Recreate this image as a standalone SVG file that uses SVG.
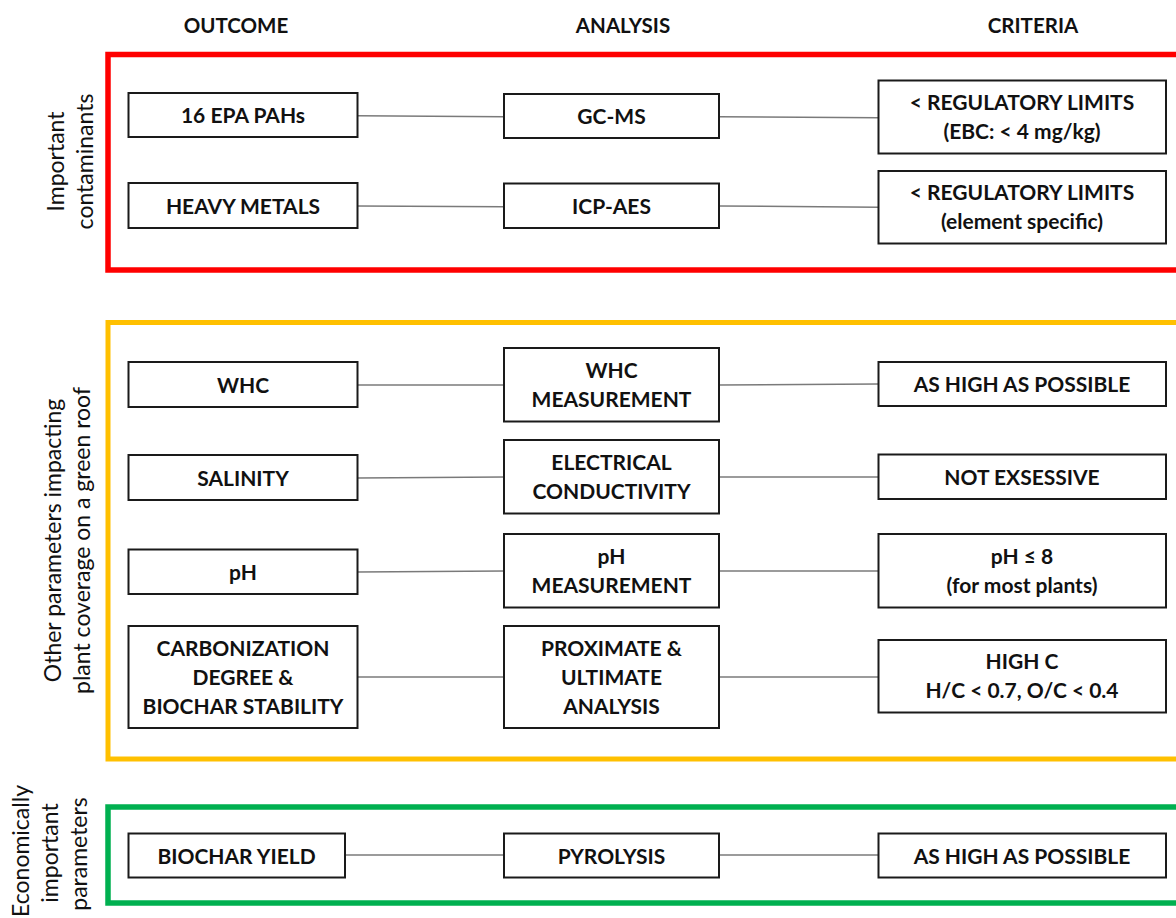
<svg xmlns="http://www.w3.org/2000/svg" width="1176" height="918" viewBox="0 0 1176 918">
<style>
  .frame { fill: none; }
  .box { fill: #ffffff; stroke: #1a1a1a; stroke-width: 2; }
  .t { font-family: Lato, "Open Sans", "Liberation Sans", sans-serif; font-size: 21px; font-weight: bold; fill: #111111; text-anchor: middle; }
  .h { font-family: Lato, "Open Sans", "Liberation Sans", sans-serif; font-size: 20.5px; font-weight: bold; fill: #111111; text-anchor: middle; }
  .side { font-family: Lato, "Open Sans", "Liberation Sans", sans-serif; font-size: 23px; font-weight: normal; fill: #111111; text-anchor: middle; }
  .conn line { stroke: #7a7a7a; stroke-width: 1.5; }
</style>
<rect width="1176" height="918" fill="#ffffff"/>

<g id="headers">
  <text class="h" x="236" y="33">OUTCOME</text>
  <text class="h" x="623" y="33">ANALYSIS</text>
  <text class="h" x="1033" y="33">CRITERIA</text>
</g>

<g id="frames">
  <rect id="frame-red" class="frame" x="108" y="54.5" width="1090" height="215.5" stroke="#FF0000" stroke-width="5.5"/>
  <rect id="frame-yellow" class="frame" x="108" y="322.5" width="1090" height="436.5" stroke="#FFC000" stroke-width="5"/>
  <rect id="frame-green" class="frame" x="108" y="807" width="1090" height="96" stroke="#00B050" stroke-width="5.5"/>
</g>

<g id="side-labels">
  <text id="label-contaminants" class="side" transform="rotate(-90)"><tspan x="-161.5" y="64">Important</tspan><tspan x="-161.5" y="93">contaminants</tspan></text>
  <text id="label-other" class="side" transform="rotate(-90)"><tspan x="-540.5" y="61">Other parameters impacting</tspan><tspan x="-540.5" y="90">plant coverage on a green roof</tspan></text>
  <text id="label-economic" class="side" transform="rotate(-90)"><tspan x="-851" y="29">Economically</tspan><tspan x="-853" y="58">important</tspan><tspan x="-854" y="87">parameters</tspan></text>
</g>

<g id="connectors" class="conn">
  <line x1="357.5" y1="115.7" x2="504" y2="116.7"/>
  <line x1="719" y1="116.7" x2="878.5" y2="117.7"/>
  <line x1="357.5" y1="206" x2="504" y2="206.7"/>
  <line x1="719" y1="206" x2="878.5" y2="207.3"/>
  <line x1="357.5" y1="385" x2="504" y2="385"/>
  <line x1="719" y1="385" x2="878.5" y2="384"/>
  <line x1="357.5" y1="478" x2="504" y2="477"/>
  <line x1="719" y1="477" x2="878.5" y2="477"/>
  <line x1="357.5" y1="572" x2="504" y2="571"/>
  <line x1="719" y1="571" x2="878.5" y2="571"/>
  <line x1="357.5" y1="677" x2="504" y2="677"/>
  <line x1="719" y1="677" x2="878.5" y2="677"/>
  <line x1="345" y1="855" x2="504" y2="855"/>
  <line x1="719" y1="855" x2="878.5" y2="855"/>
</g>

<!-- Row: 16 EPA PAHs -->
<g id="n-pahs"><rect class="box" x="128.5" y="93" width="229" height="44"/><text class="t" x="243" y="123">16 EPA PAHs</text></g>
<g id="n-gcms"><rect class="box" x="504" y="94" width="215" height="44"/><text class="t" x="611.5" y="124">GC-MS</text></g>
<g id="n-crit-pahs"><rect class="box" x="878.5" y="80.5" width="287.5" height="73"/><text class="t" x="1022" y="110">&lt; REGULATORY LIMITS</text><text class="t" x="1022" y="139">(EBC: &lt; 4 mg/kg)</text></g>

<!-- Row: HEAVY METALS -->
<g id="n-metals"><rect class="box" x="128.5" y="183" width="229" height="45"/><text class="t" x="243" y="213.5">HEAVY METALS</text></g>
<g id="n-icp"><rect class="box" x="504" y="183.5" width="215" height="44.5"/><text class="t" x="611.5" y="213.5">ICP-AES</text></g>
<g id="n-crit-metals"><rect class="box" x="878.5" y="171" width="287.5" height="72.5"/><text class="t" x="1022" y="199.5">&lt; REGULATORY LIMITS</text><text class="t" x="1022" y="228.5">(element specific)</text></g>

<!-- Row: WHC -->
<g id="n-whc"><rect class="box" x="128.5" y="362" width="229" height="45"/><text class="t" x="243" y="392.5">WHC</text></g>
<g id="n-whc-meas"><rect class="box" x="504" y="348" width="215" height="73.5"/><text class="t" x="611.5" y="378">WHC</text><text class="t" x="611.5" y="407">MEASUREMENT</text></g>
<g id="n-whc-crit"><rect class="box" x="878.5" y="362" width="287.5" height="44"/><text class="t" x="1022" y="392">AS HIGH AS POSSIBLE</text></g>

<!-- Row: SALINITY -->
<g id="n-salinity"><rect class="box" x="128.5" y="455" width="229" height="45"/><text class="t" x="243" y="485.5">SALINITY</text></g>
<g id="n-ec"><rect class="box" x="504" y="440" width="215" height="73.5"/><text class="t" x="611.5" y="470">ELECTRICAL</text><text class="t" x="611.5" y="499">CONDUCTIVITY</text></g>
<g id="n-salinity-crit"><rect class="box" x="878.5" y="454.5" width="287.5" height="44.5"/><text class="t" x="1022" y="484.5">NOT EXSESSIVE</text></g>

<!-- Row: pH -->
<g id="n-ph"><rect class="box" x="128.5" y="549.5" width="229" height="44.5"/><text class="t" x="243" y="579.5">pH</text></g>
<g id="n-ph-meas"><rect class="box" x="504" y="534" width="215" height="73.5"/><text class="t" x="611.5" y="564">pH</text><text class="t" x="611.5" y="593">MEASUREMENT</text></g>
<g id="n-ph-crit"><rect class="box" x="878.5" y="534" width="287.5" height="73.5"/><text class="t" x="1022" y="564">pH ≤ 8</text><text class="t" x="1022" y="593">(for most plants)</text></g>

<!-- Row: CARBONIZATION -->
<g id="n-carb"><rect class="box" x="128.5" y="626" width="229" height="102"/><text class="t" x="243" y="655.5">CARBONIZATION</text><text class="t" x="243" y="684.5">DEGREE &amp;</text><text class="t" x="243" y="713.5">BIOCHAR STABILITY</text></g>
<g id="n-prox"><rect class="box" x="504" y="626" width="215" height="102"/><text class="t" x="611.5" y="655.5">PROXIMATE &amp;</text><text class="t" x="611.5" y="684.5">ULTIMATE</text><text class="t" x="611.5" y="713.5">ANALYSIS</text></g>
<g id="n-carb-crit"><rect class="box" x="878.5" y="640" width="287.5" height="72.5"/><text class="t" x="1022" y="669">HIGH C</text><text class="t" x="1022" y="698">H/C &lt; 0.7, O/C &lt; 0.4</text></g>

<!-- Row: BIOCHAR YIELD -->
<g id="n-yield"><rect class="box" x="128.5" y="833.5" width="216.5" height="44"/><text class="t" x="236.5" y="863.5">BIOCHAR YIELD</text></g>
<g id="n-pyrolysis"><rect class="box" x="504" y="833.5" width="215" height="44"/><text class="t" x="611.5" y="863.5">PYROLYSIS</text></g>
<g id="n-yield-crit"><rect class="box" x="878.5" y="833.5" width="287.5" height="44"/><text class="t" x="1022" y="863.5">AS HIGH AS POSSIBLE</text></g>
</svg>
